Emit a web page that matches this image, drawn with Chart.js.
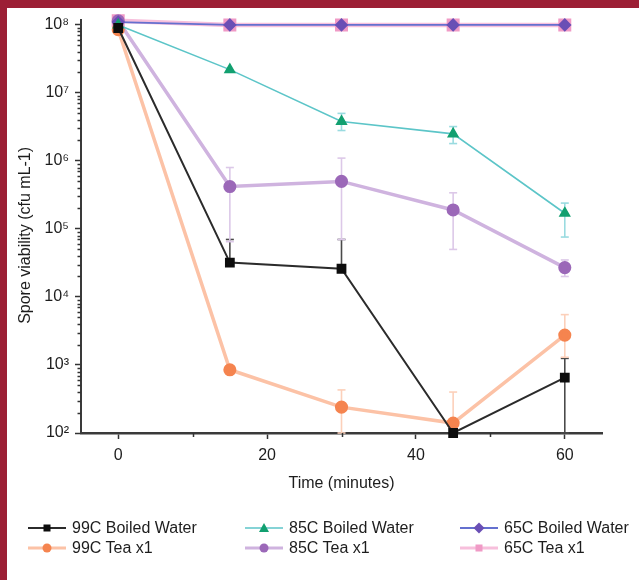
<!DOCTYPE html>
<html>
<head>
<meta charset="utf-8">
<script src="https://cdn.jsdelivr.net/npm/chart.js@4/dist/chart.umd.min.js"></script>
<style>
  html, body { margin: 0; padding: 0; background: #9c1f35; }
  #frame { position: absolute; left: 0; top: 0; width: 639px; height: 580px; background: #9c1f35; overflow: hidden; }
  #panel { position: absolute; left: 7px; top: 8px; width: 632px; height: 572px; background: #ffffff; }
  #wrap { position: absolute; left: 0; top: 0; width: 632px; height: 500px; }
  #legend { position: absolute; left: 0; top: 0; width: 632px; height: 572px; pointer-events: none; }
  .item { position: absolute; height: 20px; display: flex; align-items: center; font-family: "Liberation Sans", Arial, sans-serif; font-size: 16px; color: #1d1d1d; white-space: nowrap; }
  .item svg { display: block; margin-right: 5px; }
</style>
</head>
<body>
<div id="frame">
  <div id="panel">
    <div id="wrap"><canvas id="c" width="632" height="500"></canvas></div>
    <div id="legend"></div>
  </div>
</div>
<script>
// ---- data ----
const times = [0, 15, 30, 45, 60];
const seriesNames = ['99C Boiled Water', '85C Boiled Water', '65C Boiled Water', '99C Tea x1', '85C Tea x1', '65C Tea x1'];

const boiled99 = [9.0e7, 3.2e4, 2.6e4, 1.0e2, 6.5e2];
const boiled85 = [1.0e8, 2.2e7, 3.8e6, 2.5e6, 1.7e5];
const boiled65 = [1.1e8, 1.0e8, 1.0e8, 1.0e8, 1.0e8];
const tea99 = [8.5e7, 8.5e2, 2.4e2, 1.4e2, 2.75e3];
const tea85 = [1.15e8, 4.2e5, 5.0e5, 1.9e5, 2.7e4];
const tea65 = [1.15e8, 1.0e8, 1.0e8, 1.0e8, 1.0e8];

// error bar ends (null = none visible)
const boiled99Hi = [null, 7.0e4, 7.0e4, null, 1.25e3];
const boiled99Lo = [null, null, null, null, 1.0e2];
const boiled85Hi = [null, null, 5.0e6, 3.2e6, 2.4e5];
const boiled85Lo = [null, null, 2.8e6, 1.8e6, 7.6e4];
const tea99Hi = [null, null, 4.3e2, 4.0e2, 5.5e3];
const tea99Lo = [null, null, 1.0e2, 1.0e2, 1.3e3];
const tea85Hi = [null, 8.0e5, 1.1e6, 3.4e5, 3.5e4];
const tea85Lo = [null, 6.5e4, 7.0e4, 5.0e4, 2.0e4];

const xTicks = [0, 20, 40, 60];
const xMinorTicks = [10, 30, 50];
const yDecades = [2, 3, 4, 5, 6, 7, 8];

const sup = {'2':'\u00B2','3':'\u00B3','4':'\u2074','5':'\u2075','6':'\u2076','7':'\u2077','8':'\u2078'};

function pts(arr) { return times.map((t, i) => ({x: t, y: arr[i]})); }

const datasets = [
  { label: seriesNames[0], data: pts(boiled99), hi: boiled99Hi, lo: boiled99Lo, errColor: '#4a4a4a',
    borderColor: '#2b2b2b', borderWidth: 2, pointStyle: 'rect', pointRadius: 5.5,
    pointBackgroundColor: '#0d0d0d', pointBorderColor: '#0d0d0d', order: 1 },
  { label: seriesNames[1], data: pts(boiled85), hi: boiled85Hi, lo: boiled85Lo, errColor: '#9adbe0',
    borderColor: '#5cc5c8', borderWidth: 1.6, pointStyle: 'triangle', pointRadius: 5.5,
    pointBackgroundColor: '#12a070', pointBorderColor: '#12a070', order: 2 },
  { label: seriesNames[2], data: pts(boiled65), hi: null, lo: null, errColor: '#6b84d8',
    borderColor: '#6470cf', borderWidth: 1.8, pointStyle: 'rectRot', pointRadius: 5.5,
    pointBackgroundColor: '#6a4fb5', pointBorderColor: '#6a4fb5', order: 3 },
  { label: seriesNames[3], data: pts(tea99), hi: tea99Hi, lo: tea99Lo, errColor: '#fcd0ba',
    borderColor: '#fcc2a6', borderWidth: 3.5, pointStyle: 'circle', pointRadius: 4.8,
    pointBackgroundColor: '#f5844f', pointBorderColor: '#f5844f', order: 4 },
  { label: seriesNames[4], data: pts(tea85), hi: tea85Hi, lo: tea85Lo, errColor: '#dcc8e8',
    borderColor: '#cfb3df', borderWidth: 3.5, pointStyle: 'circle', pointRadius: 4.8,
    pointBackgroundColor: '#9b68b8', pointBorderColor: '#9b68b8', order: 5 },
  { label: seriesNames[5], data: pts(tea65), hi: null, lo: null, errColor: '#f4a9cf',
    borderColor: '#f7bfdc', borderWidth: 4.5, pointStyle: 'rect', pointRadius: 6,
    pointBackgroundColor: '#f09ac6', pointBorderColor: '#f09ac6', order: 6 }
];
datasets.forEach(d => { d.clip = false; d.tension = 0; d.fill = false; d.pointHoverRadius = d.pointRadius; });

const errorBars = {
  id: 'errorBars',
  beforeDatasetsDraw(chart) {
    const {ctx, scales: {x, y}} = chart;
    ctx.save();
    chart.data.datasets.forEach(ds => {
      if (!ds.hi && !ds.lo) return;
      ctx.strokeStyle = ds.errColor;
      ctx.lineWidth = 1.6;
      ds.data.forEach((p, i) => {
        const px = x.getPixelForValue(p.x);
        const py = y.getPixelForValue(p.y);
        [ds.hi && ds.hi[i], ds.lo && ds.lo[i]].forEach(v => {
          if (v == null) return;
          const ey = y.getPixelForValue(v);
          ctx.beginPath(); ctx.moveTo(px, py); ctx.lineTo(px, ey); ctx.stroke();
          ctx.beginPath(); ctx.moveTo(px - 4, ey); ctx.lineTo(px + 4, ey); ctx.stroke();
        });
      });
    });
    ctx.restore();
  }
};

const minorTicks = {
  id: 'minorTicks',
  afterDraw(chart) {
    const {ctx, scales: {x, y}, chartArea} = chart;
    ctx.save();
    ctx.strokeStyle = '#333';
    ctx.lineWidth = 1.5;
    yDecades.slice(0, -1).forEach(k => {
      for (let m = 2; m <= 9; m++) {
        const py = Math.round(y.getPixelForValue(m * Math.pow(10, k))) + 0.5;
        ctx.beginPath(); ctx.moveTo(chartArea.left - 3.5, py); ctx.lineTo(chartArea.left, py); ctx.stroke();
      }
    });
    xMinorTicks.forEach(v => {
      const px = Math.round(x.getPixelForValue(v)) + 0.5;
      ctx.beginPath(); ctx.moveTo(px, chartArea.bottom); ctx.lineTo(px, chartArea.bottom + 4); ctx.stroke();
    });
    ctx.restore();
  }
};

const font = {family: '"Liberation Sans", Arial, sans-serif', size: 16};

const chart = new Chart(document.getElementById('c'), {
  type: 'line',
  data: { datasets },
  plugins: [errorBars, minorTicks],
  options: {
    responsive: false,
    animation: false,
    events: [],
    layout: { padding: { top: 12, right: 37, left: 0, bottom: 0 } },
    plugins: { legend: { display: false }, tooltip: { enabled: false } },
    scales: {
      x: {
        type: 'linear', min: -5, max: 65,
        afterBuildTicks(s) { s.ticks = xTicks.map(v => ({value: v})); },
        afterFit(s) { s.height = 75; s.paddingLeft = 0; s.paddingRight = 0; },
        border: { display: true, color: '#3a3a3a', width: 2.5 },
        grid: { drawOnChartArea: false, drawTicks: true, tickLength: 6, tickColor: '#333', tickWidth: 1.5 },
        ticks: { font, color: '#1d1d1d', padding: 7, maxRotation: 0 },
        title: { display: true, text: 'Time (minutes)', font, color: '#1d1d1d', padding: { top: 0, bottom: 15 } }
      },
      y: {
        type: 'logarithmic', min: 100, max: 1.18e8,
        afterBuildTicks(s) { s.ticks = yDecades.map(k => ({value: Math.pow(10, k), major: true})); },
        afterFit(s) { s.width = 74; s.paddingTop = 0; s.paddingBottom = 0; },
        border: { display: true, color: '#3a3a3a', width: 2 },
        grid: { drawOnChartArea: false, drawTicks: true, tickLength: 6, tickColor: '#333', tickWidth: 1.5 },
        ticks: { font, color: '#1d1d1d', padding: 6,
          callback(v) { const k = Math.round(Math.log10(v)); return '10' + sup[String(k)]; } },
        title: { display: true, text: 'Spore viability (cfu mL-1)\u00A0\u00A0\u00A0\u00A0', font, color: '#1d1d1d', padding: { top: 9, bottom: 0 } }
      }
    }
  }
});

// ---- legend (3 columns x 2 rows), built from the chart's datasets ----
const legendEl = document.getElementById('legend');
const colX = [21, 238, 453];
const rowY = [510, 530];
function markerSvg(ds) {
  const c = ds.pointBackgroundColor;
  let shape;
  if (ds.pointStyle === 'rect') shape = `<rect x="15.5" y="6.5" width="7" height="7" fill="${c}"/>`;
  else if (ds.pointStyle === 'triangle') shape = `<polygon points="19,5 24,14 14,14" fill="${c}"/>`;
  else if (ds.pointStyle === 'rectRot') shape = `<polygon points="19,4.5 24.5,10 19,15.5 13.5,10" fill="${c}"/>`;
  else shape = `<circle cx="19" cy="10" r="4.5" fill="${c}"/>`;
  return `<svg width="39" height="20" viewBox="0 0 39 20"><line x1="0" y1="10" x2="38" y2="10" stroke="${ds.borderColor}" stroke-width="${Math.min(ds.borderWidth, 3)}"/>${shape}</svg>`;
}
chart.data.datasets.forEach((ds, i) => {
  const el = document.createElement('div');
  el.className = 'item';
  el.style.left = colX[i % 3] + 'px';
  el.style.top = rowY[Math.floor(i / 3)] + 'px';
  el.innerHTML = markerSvg(ds) + '<span>' + ds.label + '</span>';
  legendEl.appendChild(el);
});
</script>
</body>
</html>
